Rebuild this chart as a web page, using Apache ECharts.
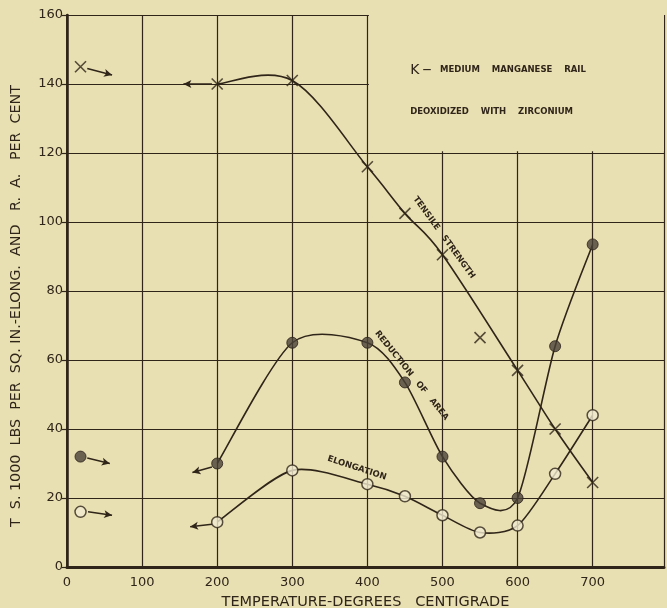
<!DOCTYPE html>
<html><head><meta charset="utf-8">
<script src="https://cdn.jsdelivr.net/npm/echarts@6/dist/echarts.min.js"></script>
<style>html,body{margin:0;padding:0;background:#e8dfb3;}#c{width:667px;height:608px;}</style>
</head><body><div id="c"></div>
<script>
// ---- data ----
const temps      = [200, 300, 400, 450, 500, 550, 600, 650, 700];
const tensile    = [140, 141, 116, 102.5, 90.5, 66.5, 57, 40, 24.5];
const reduction  = [30, 65, 65, 53.5, 32, 18.5, 20, 64, 93.5];
const elongation = [13, 28, 24, 20.5, 15, 10, 12, 27, 44];
// reference values plotted at the left edge
const refTemp = [18];
const refTensile = [145];
const refReduction = [32];
const refElongation = [16];
// tensile point left off the faired curve
const tensileOffCurve = [550];
const xTicks = ['0','100','200','300','400','500','600','700'];

const ink = '#2f2518';
const bg = '#e8dfb3';
const font = 'DejaVu Sans';

const pairs = (xs, ys) => xs.map((x, i) => [x, ys[i]]);
const xSym = 'path://M0,0L10,10M10,0L0,10';

// faired curve drawn through the data points (Catmull-Rom in screen space)
function curve(points, k) {
  return {
    type: 'custom', coordinateSystem: 'cartesian2d', z: 2, silent: true,
    data: points,
    renderItem: function (params, api) {
      if (params.dataIndex !== 0) return null;
      const p = points.map(d => api.coord(d));
      let d = 'M' + p[0][0] + ',' + p[0][1];
      for (let i = 0; i < p.length - 1; i++) {
        const p0 = p[i - 1] || p[i], p1 = p[i], p2 = p[i + 1], p3 = p[i + 2] || p[i + 1];
        const c1 = [p1[0] + (p2[0] - p0[0]) * k, p1[1] + (p2[1] - p0[1]) * k];
        const c2 = [p2[0] - (p3[0] - p1[0]) * k, p2[1] - (p3[1] - p1[1]) * k];
        d += 'C' + c1[0] + ',' + c1[1] + ' ' + c2[0] + ',' + c2[1] + ' ' + p2[0] + ',' + p2[1];
      }
      return {type: 'path', shape: {pathData: d},
        style: {fill: 'none', stroke: ink, lineWidth: 1.6}};
    }
  };
}
function arrows(list) {
  return {silent: true, symbol: ['none', 'arrow'], symbolSize: [6, 8],
    label: {show: false}, lineStyle: {color: ink, width: 1.5, type: 'solid'},
    data: list.map(a => [{coord: a[0]}, {coord: a[1]}])};
}
const filled = {color: '#4a4137', borderColor: '#2a2118', borderWidth: 1};
const open = {color: '#f1ead0', borderColor: ink, borderWidth: 1.5};

const chart = echarts.init(document.getElementById('c'));
chart.setOption({
  animation: false,
  backgroundColor: bg,
  grid: {left: 67, top: 15, right: 3, bottom: 41, outerBoundsMode: 'none', containLabel: false},
  xAxis: [{
    type: 'value', min: 0, max: 795, interval: 100,
    axisLine: {show: true, lineStyle: {color: ink, width: 3}},
    axisTick: {show: false},
    axisLabel: {color: ink, fontFamily: font, fontSize: 13, margin: 9,
      formatter: v => xTicks[v / 100] !== undefined ? xTicks[v / 100] : ''},
    splitLine: {show: true, lineStyle: {color: ink, width: 1.2}},
    name: 'TEMPERATURE-DEGREES   CENTIGRADE', nameLocation: 'middle', nameGap: 28,
    nameTextStyle: {color: ink, fontFamily: font, fontSize: 14.5}
  }, {
    type: 'value', position: 'top', min: 0, max: 795, z: 10,
    axisLine: {show: true, lineStyle: {color: ink, width: 2}},
    axisTick: {show: false}, axisLabel: {show: false}, splitLine: {show: false}
  }],
  yAxis: [{
    type: 'value', min: 0, max: 160, interval: 20,
    axisLine: {show: true, lineStyle: {color: ink, width: 2.5}},
    axisTick: {show: true, length: 5, lineStyle: {color: ink, width: 1.2}},
    axisLabel: {color: ink, fontFamily: font, fontSize: 13, margin: 4},
    splitLine: {show: true, lineStyle: {color: ink, width: 1.2}}
  }, {
    type: 'value', position: 'right', min: 0, max: 160, z: 10,
    axisLine: {show: true, lineStyle: {color: ink, width: 1.8}},
    axisTick: {show: false}, axisLabel: {show: false}, splitLine: {show: false}
  }],
  series: [
    // blank panel behind the title text
    {type: 'line', data: [], silent: true, z: 1,
     markArea: {silent: true, itemStyle: {color: bg},
       data: [[{coord: [402, 120.5]}, {coord: [795, 160]}]]}},
    curve(pairs(temps, tensile).filter(d => !tensileOffCurve.includes(d[0])), 1 / 6),
    curve(pairs(temps, reduction), 1 / 7.5),
    curve(pairs(temps, elongation), 1 / 7.5),
    {type: 'scatter', symbol: xSym, symbolSize: 11, z: 4,
     itemStyle: {color: 'none', borderColor: ink, borderWidth: 1.6},
     data: pairs(temps, tensile).concat(pairs(refTemp, refTensile)),
     markLine: arrows([[[27, 144.5], [60, 142.6]], [[193, 140], [155, 140]]])},
    {type: 'scatter', symbol: 'circle', symbolSize: 11, z: 4, itemStyle: filled,
     data: pairs(temps, reduction).concat(pairs(refTemp, refReduction)),
     markLine: arrows([[[193, 29], [167, 27.4]], [[27, 31.6], [57, 30]]])},
    {type: 'scatter', symbol: 'circle', symbolSize: 11, z: 4, itemStyle: open,
     data: pairs(temps, elongation).concat(pairs(refTemp, refElongation)),
     markLine: arrows([[[193, 12.4], [164, 11.7]], [[28, 16], [60, 15]]])}
  ]
});

const px = (x, y) => chart.convertToPixel({xAxisIndex: 0, yAxisIndex: 0}, [x, y]);
const small = {fontFamily: font, fontSize: 8.5, fontWeight: 'bold', fill: ink};
function rotLabel(text, at, deg) {
  const p = px(at[0], at[1]);
  return {type: 'text', z: 100, x: p[0], y: p[1], rotation: -deg * Math.PI / 180,
    style: Object.assign({text: text, align: 'center', verticalAlign: 'middle'}, small)};
}
const t1 = px(457, 144), t2 = px(457, 131.9);
chart.setOption({graphic: [
  {type: 'text', z: 100, x: t1[0], y: t1[1], style: {text: '{k|K} {s|—   MEDIUM    MANGANESE    RAIL}',
    verticalAlign: 'middle', fill: ink,
    rich: {k: {fontFamily: font, fontSize: 14, fill: ink},
           s: {fontFamily: font, fontSize: 8.5, fontWeight: 'bold', fill: ink}}}},
  {type: 'text', z: 100, x: t2[0], y: t2[1], style: Object.assign({text: 'DEOXIDIZED    WITH    ZIRCONIUM',
    verticalAlign: 'middle'}, small)},
  rotLabel('TENSILE   STRENGTH', [502, 95.5], 54),
  rotLabel('REDUCTION   OF   AREA', [459, 55.5], 51),
  rotLabel('ELONGATION', [386, 28.7], 18),
  {type: 'text', z: 100, x: 16, y: 306, rotation: Math.PI / 2,
    style: {text: 'T  S. 1000  LBS  PER  SQ. IN.-ELONG.  AND   R.  A.   PER  CENT',
      align: 'center', verticalAlign: 'middle', fill: ink, fontFamily: font, fontSize: 14.3}}
]});
</script></body></html>
